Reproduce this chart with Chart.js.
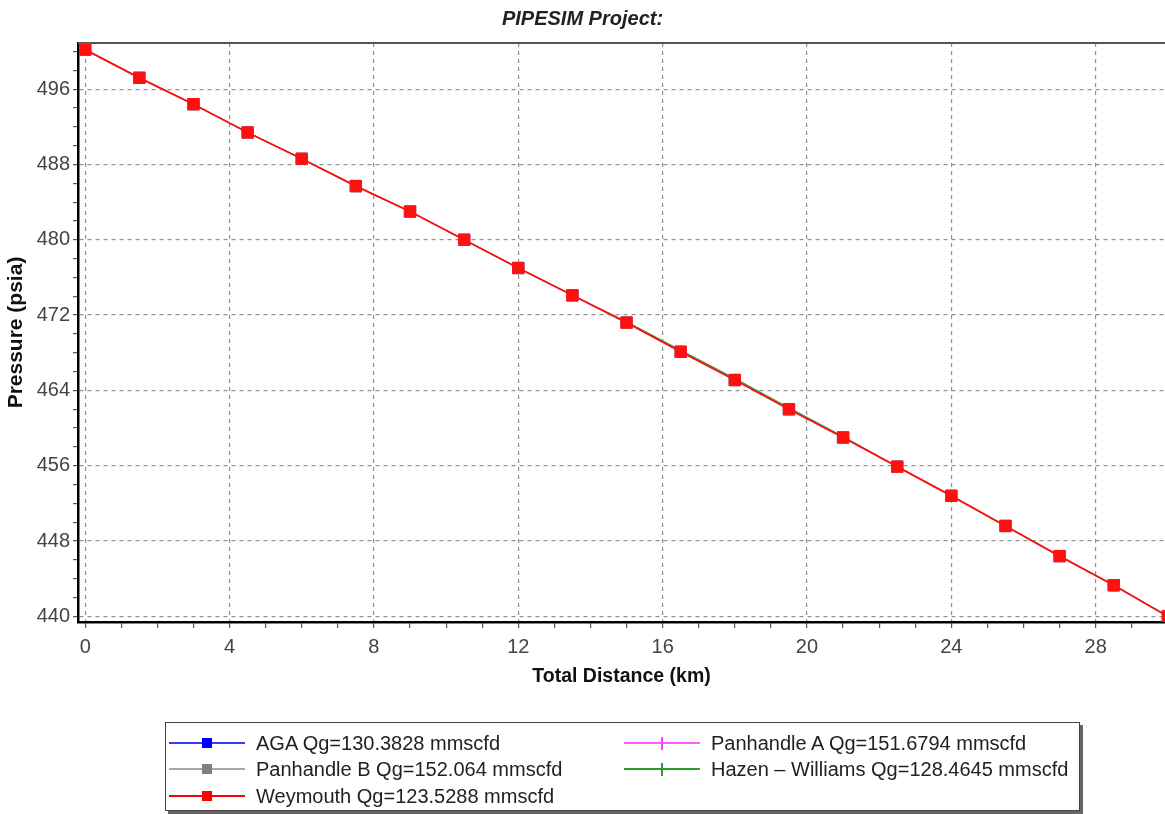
<!DOCTYPE html>
<html>
<head>
<meta charset="utf-8">
<script src="https://cdn.jsdelivr.net/npm/chart.js@4.4.1/dist/chart.umd.min.js"></script>
<style>
  body { margin: 0; background: #fff; }
  #wrap { position: relative; width: 1165px; height: 814px; overflow: hidden; }
  #legend {
    position: absolute; left: 165px; top: 722px; width: 913px; height: 87px;
    border: 1px solid #444; box-shadow: 3px 3px 0 #666; background: #fff;
    font-family: "Liberation Sans", Arial, sans-serif; font-size: 20px; color: #222;
  }
  .item { position: absolute; height: 24px; line-height: 24px; white-space: nowrap; }
  .sample { position: absolute; left: 0; top: 11px; width: 76px; height: 0; border-top: 2px solid; }
  .sample .mk { position: absolute; left: 33px; top: -6px; width: 10px; height: 10px; }
  .sample .plus { position: absolute; left: 32px; top: -7px; width: 12px; height: 13px; }
  .plus::before { content: ""; position: absolute; left: 5px; top: 0; width: 1.5px; height: 13px; background: currentColor; }
  .item .txt { position: absolute; left: 87px; top: 0; }
</style>
</head>
<body>
<div id="wrap">
  <canvas id="chart" width="1165" height="814"></canvas>
  <div id="legend"></div>
</div>
<script>
const distanceKm = [0, 1.5, 3, 4.5, 6, 7.5, 9, 10.5, 12, 13.5, 15, 16.5, 18, 19.5, 21, 22.5, 24, 25.5, 27, 28.5, 30];

const weymouth = [500.2, 497.2, 494.4, 491.4, 488.6, 485.7, 483.0, 480.0, 477.0, 474.1, 471.2, 468.1, 465.1, 462.0, 459.0, 455.9, 452.8, 449.6, 446.4, 443.3, 440.0];
const aga = [500.2, 497.2, 494.4, 491.4, 488.6, 485.7, 483.0, 480.0, 477.0, 474.1, 471.2, 468.1, 465.1, 462.0, 459.0, 455.9, 452.8, 449.6, 446.4, 443.3, 440.0];
const panhandleA = [500.2, 497.2, 494.4, 491.4, 488.6, 485.7, 483.0, 480.0, 477.0, 474.1, 471.2, 468.1, 465.1, 462.0, 459.0, 455.9, 452.8, 449.6, 446.4, 443.3, 440.0];
const panhandleB = [500.2, 497.2, 494.4, 491.4, 488.6, 485.7, 483.0, 480.0, 477.0, 474.1, 471.2, 468.1, 465.1, 462.0, 459.0, 455.9, 452.8, 449.6, 446.4, 443.3, 440.0];
const hazenWilliams = [500.2, 497.2, 494.4, 491.4, 488.6, 485.7, 483.0, 480.0, 477.0, 474.1, 471.3, 468.25, 465.25, 462.15, 459.1, 455.9, 452.8, 449.6, 446.4, 443.3, 440.0];

const xTicks = [0, 1, 2, 3, 4, 5, 6, 7, 8, 9, 10, 11, 12, 13, 14, 15, 16, 17, 18, 19, 20, 21, 22, 23, 24, 25, 26, 27, 28, 29];
const xLabels = [0, 4, 8, 12, 16, 20, 24, 28];
const yTicks = [440, 442, 444, 446, 448, 450, 452, 454, 456, 458, 460, 462, 464, 466, 468, 470, 472, 474, 476, 478, 480, 482, 484, 486, 488, 490, 492, 494, 496, 498, 500];
const yLabels = [440, 448, 456, 464, 472, 480, 488, 496];

const legendItems = [
  { text: "AGA Qg=130.3828 mmscfd", line: "#3a3aff", mark: "square", markColor: "#0000ff", col: 0, row: 0 },
  { text: "Panhandle A Qg=151.6794 mmscfd", line: "#ff5cff", mark: "plus", markColor: "#ff40ff", col: 1, row: 0 },
  { text: "Panhandle B Qg=152.064 mmscfd", line: "#a8a8a8", mark: "square", markColor: "#808080", col: 0, row: 1 },
  { text: "Hazen – Williams Qg=128.4645 mmscfd", line: "#2f9a2f", mark: "plus", markColor: "#2f9a2f", col: 1, row: 1 },
  { text: "Weymouth Qg=123.5288 mmscfd", line: "#ff0000", mark: "square", markColor: "#ff0000", col: 0, row: 2 }
];

const gridColor = "#8f8f8f";

const topFrame = {
  id: "topFrame",
  beforeDatasetsDraw(chart) {
    const { ctx, chartArea } = chart;
    ctx.save();
    ctx.strokeStyle = "#555";
    ctx.lineWidth = 2;
    ctx.beginPath();
    ctx.moveTo(chartArea.left, chartArea.top);
    ctx.lineTo(chartArea.right, chartArea.top);
    ctx.stroke();
    ctx.restore();
  }
};

function series(label, values, color, style, order, width) {
  return {
    label: label,
    data: distanceKm.map((x, i) => ({ x: x, y: values[i] })),
    borderColor: color,
    backgroundColor: color,
    borderWidth: width,
    pointStyle: style,
    pointRadius: style === "rect" ? 8 : 5,
    pointBorderWidth: style === "rect" ? 1 : 1.2,
    tension: 0,
    order: order
  };
}

new Chart(document.getElementById("chart"), {
  type: "line",
  data: {
    datasets: [
      series("AGA", aga, "#3a3aff", "rect", 4, 1),
      series("Panhandle A", panhandleA, "#ff5cff", "cross", 3, 1),
      series("Panhandle B", panhandleB, "#a8a8a8", "rect", 2, 1),
      series("Hazen – Williams", hazenWilliams, "#2f9a2f", "cross", 1, 1.2),
      series("Weymouth", weymouth, "#ff1010", "rect", 0, 1.8)
    ]
  },
  options: {
    responsive: false,
    animation: false,
    layout: { autoPadding: false, padding: { left: 0, right: 0, top: 0, bottom: 122 } },
    plugins: {
      legend: { display: false },
      tooltip: { enabled: false },
      title: {
        display: true,
        text: "PIPESIM Project:",
        color: "#222",
        font: { family: "Liberation Sans", size: 20, style: "italic" },
        padding: { top: 7, bottom: 12 }
      }
    },
    scales: {
      x: {
        type: "linear",
        min: -0.2,
        max: 29.92,
        afterBuildTicks: (scale) => { scale.ticks = xTicks.map((v) => ({ value: v })); },
        afterFit: (scale) => { scale.height = 70; scale.paddingRight = 0; scale.paddingLeft = 0; },
        ticks: {
          autoSkip: false,
          maxRotation: 0,
          color: "#444",
          padding: 7,
          font: { family: "Liberation Sans", size: 20 },
          callback: (v) => xLabels.includes(v) ? String(v) : ""
        },
        grid: {
          color: (c) => c.tick && xLabels.includes(c.tick.value) ? gridColor : "rgba(0,0,0,0)",
          lineWidth: 1.2,
          tickColor: "#555",
          tickLength: 6
        },
        border: { display: true, color: "#000", width: 2.5, dash: [4, 4] },
        title: {
          display: true,
          text: "Total Distance (km)",
          color: "#111",
          font: { family: "Liberation Sans", size: 19.5, weight: "bold" },
          padding: { top: 4, bottom: 4 }
        }
      },
      y: {
        type: "linear",
        min: 439.4,
        max: 500.9,
        afterBuildTicks: (scale) => { scale.ticks = yTicks.map((v) => ({ value: v })); },
        afterFit: (scale) => { scale.width = 78; scale.paddingTop = 0; scale.paddingBottom = 0; },
        ticks: {
          autoSkip: false,
          color: "#444",
          padding: 3,
          font: { family: "Liberation Sans", size: 20 },
          callback: (v) => yLabels.includes(v) ? String(v) : ""
        },
        grid: {
          color: (c) => c.tick && yLabels.includes(c.tick.value) ? gridColor : "rgba(0,0,0,0)",
          lineWidth: 1.2,
          tickColor: "#555",
          tickLength: 5
        },
        border: { display: true, color: "#000", width: 2.5, dash: [4, 4] },
        title: {
          display: true,
          text: "Pressure (psia)",
          color: "#111",
          font: { family: "Liberation Sans", size: 21, weight: "bold" },
          padding: { top: 4, bottom: 4 }
        }
      }
    }
  },
  plugins: [topFrame]
});

// legend box below the plot, two columns like the original
const legend = document.getElementById("legend");
const colLeft = [3, 458];
const rowTop = [8, 34, 61];
legendItems.forEach((it) => {
  const el = document.createElement("div");
  el.className = "item";
  el.style.left = colLeft[it.col] + "px";
  el.style.top = rowTop[it.row] + "px";
  const sample = document.createElement("div");
  sample.className = "sample";
  sample.style.borderTopColor = it.line;
  const mk = document.createElement("div");
  if (it.mark === "square") {
    mk.className = "mk";
    mk.style.background = it.markColor;
  } else {
    mk.className = "plus";
    mk.style.color = it.markColor;
  }
  sample.appendChild(mk);
  const txt = document.createElement("span");
  txt.className = "txt";
  txt.textContent = it.text;
  el.appendChild(sample);
  el.appendChild(txt);
  legend.appendChild(el);
});
</script>
</body>
</html>
